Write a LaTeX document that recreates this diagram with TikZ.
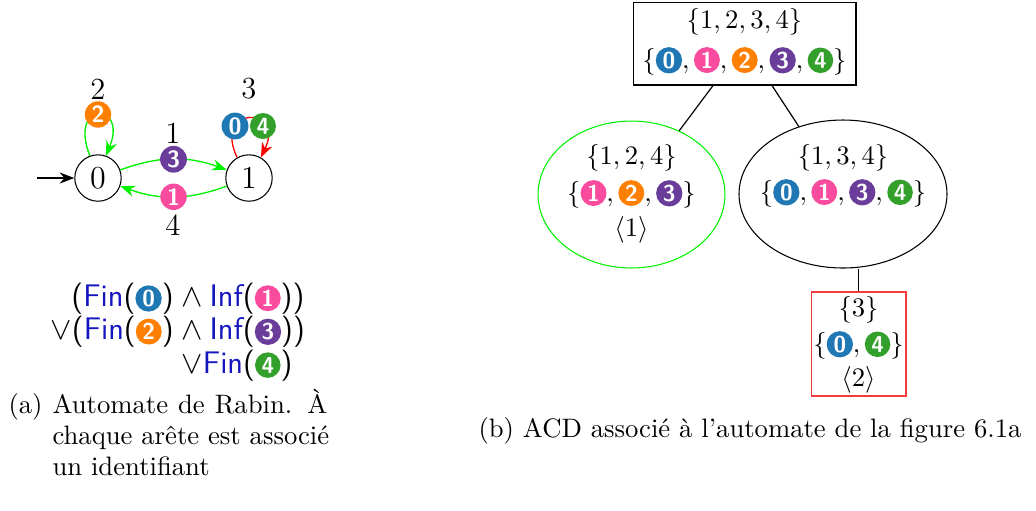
\documentclass[tikz,border=0pt]{standalone}
\usepackage{fontspec}
\usetikzlibrary{arrows.meta,shapes.geometric}
\definecolor{cz}{HTML}{1F78B4}
\definecolor{co}{HTML}{F94C9E}
\definecolor{ct}{HTML}{FF7F00}
\definecolor{cth}{HTML}{6A3D9A}
\definecolor{cf}{HTML}{33A02C}
\definecolor{finb}{HTML}{1515C0}
\definecolor{limeg}{rgb}{0,0.95,0}
\definecolor{boxred}{HTML}{F03C3C}
\newcommand\bdg[3][9.4pt]{\tikz[baseline=(bb.base)]\node[circle,fill=#2,text=white,inner sep=0.7pt,minimum size=#1,font=\sffamily\bfseries\fontsize{8.6}{8.6}\selectfont](bb){#3};}
\newcommand\Fin{\textcolor{finb}{Fin}}
\newcommand\Inf{\textcolor{finb}{Inf}}
\tikzset{
  state/.style={circle,draw,minimum size=17.4pt,inner sep=0pt,font=\fontsize{12}{14}\selectfont},
  bnode/.style={circle,fill=#1,text=white,inner sep=0.7pt,minimum size=9.3pt,font=\sffamily\bfseries\fontsize{8.8}{8.8}\selectfont},
  lab/.style={inner sep=0pt,font=\fontsize{11.5}{12}\selectfont},
  tx/.style={inner sep=0pt,font=\fontsize{10.3}{12}\selectfont},
  captxt/.style={anchor=base west,inner sep=0pt,font=\fontsize{10}{12}\selectfont},
  arr/.style={-{Stealth[length=5.5pt,width=4.2pt]},line width=0.5pt},
  tedge/.style={line width=0.45pt}
}
\begin{document}
\begin{tikzpicture}[x=0.375pt,y=-0.375pt]
\useasboundingbox (0,0) rectangle (1036,510);
% ---------- automaton ----------
\node[state] (q0) at (98,178) {0};
\node[state] (q1) at (249,178) {1};
\coordinate (init) at (37,178);
\draw[arr] (init) -- (q0);
\draw[arr,limeg] (q0) to[out=20,in=160] node[bnode=cth] (b3) {3} (q1);
\draw[arr,limeg] (q1) to[out=200,in=-20] node[bnode=co] (b1) {1} (q0);
\draw[arr,limeg] (q0.110) .. controls +(-22,-55) and +(22,-55) .. node[bnode=ct] (b2) {2} (q0.70);
\draw[arr,red] (q1.120) .. controls +(-25,-52) and +(25,-52) .. node[pos=.28,bnode=cz] (b0) {0} node[pos=.72,bnode=cf] (b4) {4} (q1.60);
\node[lab] (l1) at (173,133) {1};
\node[lab] (l4) at (173,225) {4};
\node[lab] (l2) at (98,89) {2};
\node[lab] (l3) at (249,89) {3};
% ---------- formula ----------
\node[anchor=west,inner sep=0pt,font=\sffamily\fontsize{11.7}{12.4}\selectfont] (form) at (50,333)
{\begin{tabular}{@{}r@{\hspace{3pt}}l@{}}
(\Fin(\bdg[8.8pt]{cz}{0}) & $\wedge$\hspace{2.5pt}\Inf(\bdg[8.8pt]{co}{1}))\\
$\vee$(\Fin(\bdg[8.8pt]{ct}{2}) & $\wedge$\hspace{2.5pt}\Inf(\bdg[8.8pt]{cth}{3}))\\
 & $\vee$\Fin(\bdg[8.8pt]{cf}{4})
\end{tabular}};
% ---------- captions ----------
\node[captxt] (capa1) at (8,413) {\makebox[119.6pt][s]{(a) Automate de Rabin. À}};
\node[captxt] (capa2) at (52,444) {chaque arête est associé};
\node[captxt] (capa3) at (52,475) {un identifiant};
\node[captxt] (capb) at (478,437) {(b) ACD associé à l'automate de la figure 6.1a};
% ---------- ACD tree ----------
\node[draw,minimum width=83.6pt,minimum height=31.1pt,inner sep=0pt] (root) at (744.5,43.5) {};
\node[tx] (r1) at (744.5,22) {$\{1,2,3,4\}$};
\node[tx] (r2) at (744.5,61) {$\{\bdg{cz}{0},\bdg{co}{1},\bdg{ct}{2},\bdg{cth}{3},\bdg{cf}{4}\}$};
\node[ellipse,draw=limeg,minimum width=70.1pt,minimum height=55.1pt,inner sep=0pt] (lft) at (631.5,194.5) {};
\node[tx] (lt1) at (631.5,158) {$\{1,2,4\}$};
\node[tx] (lt2) at (631.5,194) {$\{\bdg{co}{1},\bdg{ct}{2},\bdg{cth}{3}\}$};
\node[tx] (lt3) at (631.5,230) {$\langle 1\rangle$};
\node[ellipse,draw,minimum width=78pt,minimum height=55.5pt,inner sep=0pt] (rgt) at (843,194) {};
\node[tx] (rt1) at (843,158) {$\{1,3,4\}$};
\node[tx] (rt2) at (843,193) {$\{\bdg{cz}{0},\bdg{co}{1},\bdg{cth}{3},\bdg{cf}{4}\}$};
\node[draw=boxred,minimum width=35.6pt,minimum height=39pt,inner sep=0pt] (rb) at (858.5,344) {};
\node[tx] (bt1) at (858.5,310) {$\{3\}$};
\node[tx] (bt2) at (858.5,345) {$\{\bdg{cz}{0},\bdg{cf}{4}\}$};
\node[tx] (bt3) at (858.5,380) {$\langle 2\rangle$};
\draw[tedge] (root) -- (lft);
\draw[tedge] (root) -- (rgt);
\draw[tedge] (rb.north) -- (rb.north |- rgt.south);
\end{tikzpicture}
\end{document}
